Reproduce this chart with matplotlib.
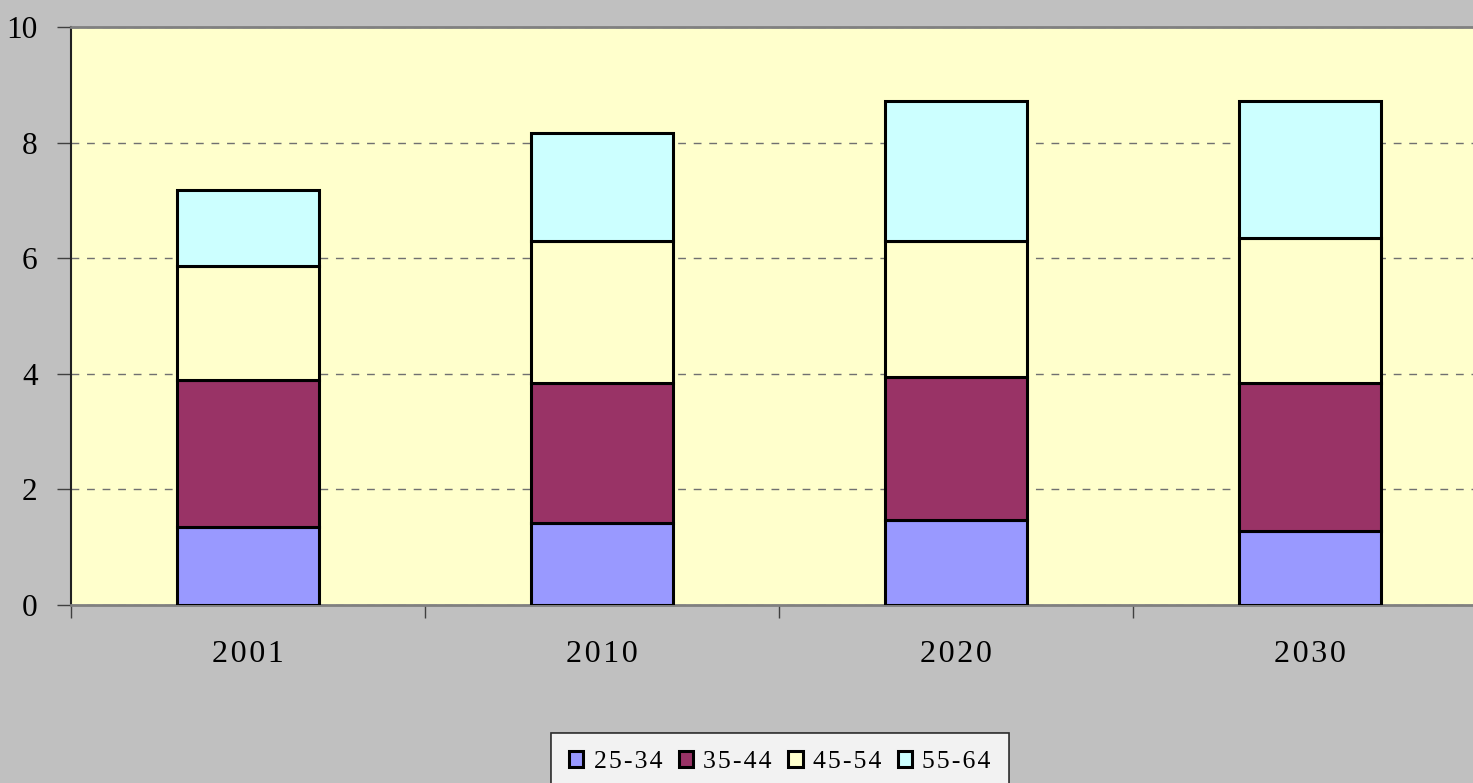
import matplotlib
matplotlib.use("Agg")
import matplotlib.pyplot as plt
import numpy as np

years = ["2001", "2010", "2020", "2030"]
age_groups = ["25-34", "35-44", "45-54", "55-64"]
v_25_34 = [1.35, 1.42, 1.47, 1.28]
v_35_44 = [2.54, 2.42, 2.47, 2.56]
v_45_54 = [1.98, 2.46, 2.36, 2.51]
v_55_64 = [1.31, 1.87, 2.42, 2.37]
colors = ["#9999FF", "#993366", "#FFFFCC", "#CCFFFF"]

plt.rcParams['font.family'] = ['Liberation Serif', 'DejaVu Serif']

def spaced(s):
    return "\u200a".join(s)

fig = plt.figure(figsize=(14.73, 7.83), dpi=100, facecolor="#C0C0C0")
ax = fig.add_axes([71/1473, 1-605/783, 1416/1473, 578/783])
ax.set_facecolor("#FFFFCC")

x = np.arange(len(years))
bottom = np.zeros(len(years))
series = [v_25_34, v_35_44, v_45_54, v_55_64]
handles = []
for name, vals, c in zip(age_groups, series, colors):
    b = ax.bar(x, vals, 0.40, bottom=bottom, color=c, edgecolor="black",
               linewidth=2.2, label=name, zorder=3)
    handles.append(b)
    bottom += np.array(vals)

ax.set_xlim(-0.5, 3.5)
ax.set_ylim(0, 10)
ax.set_yticks(np.arange(0, 11, 2))
ax.yaxis.grid(True, linestyle=(0, (5.6, 5.6)), color="#707070", linewidth=1.0, zorder=0)
ax.set_axisbelow(True)

ax.set_xticks(x)
ax.set_xticklabels([spaced(y) for y in years])
ax.set_xticks(np.arange(-0.5, 3.6, 1.0), minor=True)
ax.tick_params(axis='x', which='major', length=0, pad=25, labelsize=23)
ax.tick_params(axis='x', which='minor', length=9, width=1, color="#404040", direction='out')
ax.tick_params(axis='y', length=10, width=1, color="#404040", labelsize=22.5, pad=14)

ax.spines['top'].set_color("#808080")
ax.spines['top'].set_linewidth(2)
ax.spines['right'].set_color("#808080")
ax.spines['bottom'].set_color("#808080")
ax.spines['bottom'].set_linewidth(2)
ax.spines['left'].set_color("#202020")
ax.spines['left'].set_linewidth(1.5)

leg = fig.legend(handles=handles, labels=[spaced(a) for a in age_groups], loc='upper center',
                 bbox_to_anchor=(780/1473, 1-733/783), ncol=4, frameon=True,
                 fancybox=False, edgecolor="black", facecolor="white",
                 fontsize=18.5, handlelength=0.55, handleheight=0.55,
                 handletextpad=0.4, columnspacing=0.65, borderpad=0.7,
                 borderaxespad=0)
leg.get_frame().set_linewidth(1.2)
for p in leg.get_patches():
    p.set_linewidth(2.2)

fig.savefig("out.png", dpi=100, facecolor=fig.get_facecolor())
